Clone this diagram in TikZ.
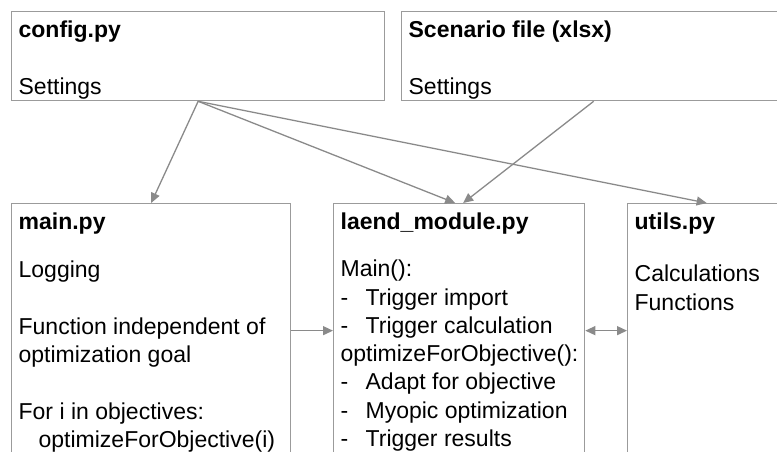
\documentclass[tikz,border=0pt]{standalone}
\usepackage{fontspec}
\setmainfont{Liberation Sans}
\usetikzlibrary{arrows.meta}
\definecolor{boxgray}{RGB}{155,155,155}
\definecolor{arrowgray}{RGB}{138,138,138}
\begin{document}
\begin{tikzpicture}[x=1pt, y=-1pt, line width=1.3pt,
file box/.style={draw=boxgray, anchor=north west, inner sep=0pt},
file text/.style={anchor=north west, align=left, inner xsep=7pt, inner ysep=6pt, font=\fontsize{23}{28.3}\selectfont},
link/.style={draw=arrowgray, -{Triangle[length=10pt,width=9pt]}}]
\useasboundingbox (0,0) rectangle (777,452);
\clip (0,0) rectangle (777,452);
\begin{scope}
\node[file box, minimum width=373pt, minimum height=89pt] (config) at (11,11) {};
\node[file box, minimum width=384pt, minimum height=89pt] (scenario) at (401,11) {};
\node[file box, minimum width=279pt, minimum height=254pt] (mainpy) at (11,203) {};
\node[file box, minimum width=251pt, minimum height=254pt] (laend) at (333,203) {};
\node[file box, minimum width=158pt, minimum height=254pt] (utils) at (627,203) {};
%\node[file box] () at (,) {};
\end{scope}
\begin{scope}
\node[file text] (config label) at (config.north west) {\strut\textbf{config.py}\\[28.3pt]Settings};
\node[file text] (scenario label) at (scenario.north west) {\strut\textbf{Scenario file (xlsx)}\\[28.3pt]Settings};
\node[file text] (mainpy label) at (mainpy.north west) {\strut\textbf{main.py}\\[20pt]Logging\\[28.3pt]Function independent of\\optimization goal\\[28.3pt]For i in objectives:\\\hspace*{20pt}optimizeForObjective(i)};
\node[file text] (laend label) at (laend.north west) {\strut\textbf{laend\_module.py}\\[19pt]Main():\\\makebox[25pt][l]{-}Trigger import\\\makebox[25pt][l]{-}Trigger calculation\\optimizeForObjective():\\\makebox[25pt][l]{-}Adapt for objective\\\makebox[25pt][l]{-}Myopic optimization\\\makebox[25pt][l]{-}Trigger results};
\node[file text] (utils label) at (utils.north west) {\strut\textbf{utils.py}\\[24pt]Calculations\\Functions};
\end{scope}
\begin{scope}
\draw[link] (config.south) -- (mainpy.north);
\draw[link] (config.south) -- ([xshift=-4pt]laend.north);
\draw[link] (config.south) -- (utils.north);
\draw[link] (scenario.south) -- ([xshift=4pt]laend.north);
\draw[link] (mainpy.east) -- (laend.west);
\draw[link, {Triangle[length=10pt,width=9pt]}-{Triangle[length=10pt,width=9pt]}] (laend.east) -- (utils.west);
%\draw[link] () -- ();
\end{scope}
\end{tikzpicture}
\end{document}
